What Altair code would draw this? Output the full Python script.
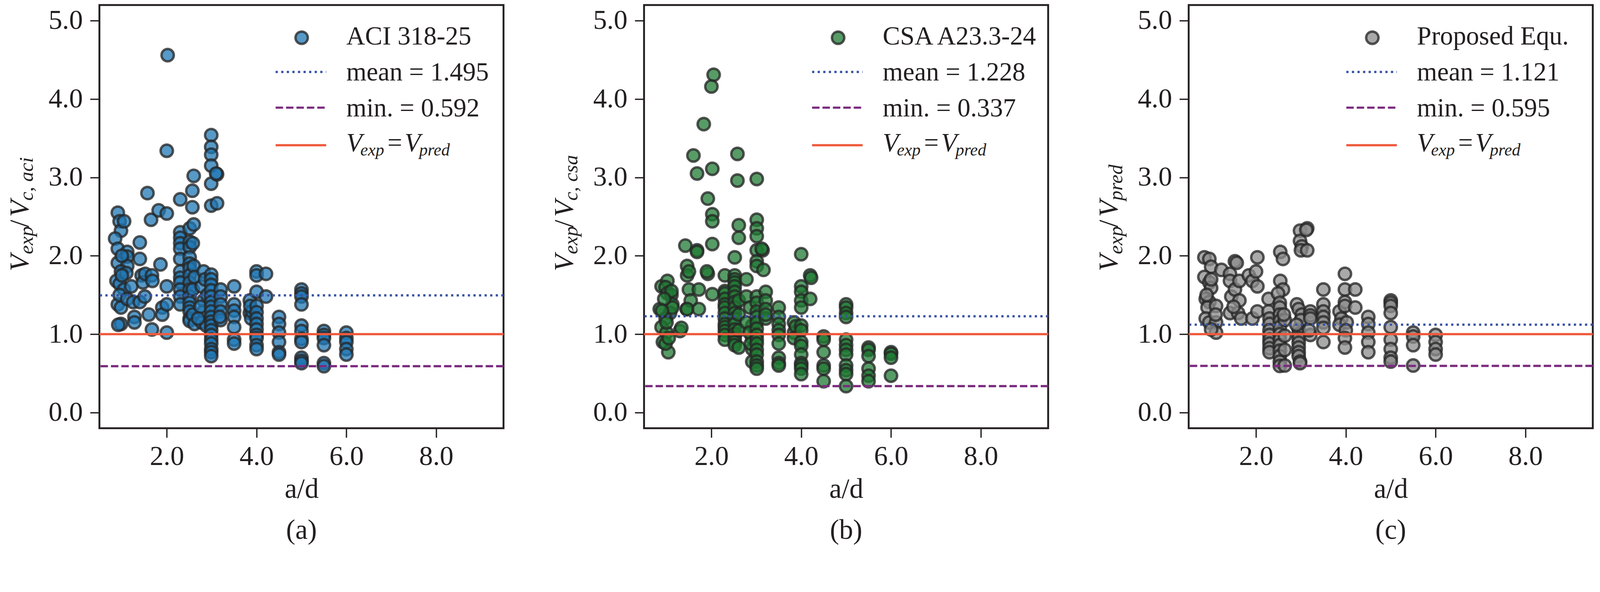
import altair as alt
import pandas as pd

# a/d and V_exp / V_model
ad_aci = [
    0.91, 0.95, 0.98, 0.85, 0.91, 1.12, 1.12, 0.91, 1.12, 0.98, 0.88, 0.95, 1.05, 0.91, 0.98, 0.98, 1.05, 1.10, 0.95, 1.12, 0.92, 1.00, 1.00,
    1.21, 1.25, 1.28, 1.28,
    1.40, 1.40, 1.44, 1.47, 1.40, 1.51,
    1.57, 1.52, 1.60, 1.65, 1.67, 1.68, 1.67,
    1.82, 1.86, 1.90, 1.90,
    2.02, 2.00, 2.00, 2.00, 2.00, 2.00,
    2.30, 2.30, 2.30, 2.30, 2.30, 2.30, 2.30, 2.30, 2.30, 2.30, 2.30, 2.30,
    2.51, 2.51, 2.51, 2.51, 2.51, 2.51, 2.51, 2.51, 2.51, 2.51, 2.51, 2.51, 2.51, 2.51, 2.51,
    2.60, 2.57, 2.57, 2.60, 2.58, 2.60, 2.62, 2.58, 2.58, 2.62,
    2.82, 2.78, 2.82, 2.82, 2.78, 2.88, 2.75, 2.70, 2.85, 2.90,
    2.99, 2.99, 2.99, 2.99, 2.99, 2.99, 2.99, 2.99, 2.99, 2.99, 2.99, 2.99,
    2.99, 2.99, 2.99, 2.99, 2.99, 2.99, 2.99, 2.99, 2.99, 2.99, 2.99, 2.99,
    3.12, 3.10, 3.12,
    3.20, 3.20, 3.20, 3.20, 3.20, 3.18,
    3.50, 3.50, 3.50, 3.50, 3.50, 3.50, 3.50,
    3.85, 3.85, 3.88, 3.90, 3.86,
    4.00, 4.00, 4.00, 4.00, 4.00, 4.00, 4.00, 4.00, 4.00, 4.00, 4.00, 4.00,
    4.21, 4.21,
    4.50, 4.50, 4.50, 4.50, 4.50, 4.50,
    5.00, 5.00, 5.00, 5.00, 5.00, 5.00, 5.00, 5.00, 5.00, 5.00, 5.00,
    5.50, 5.50, 5.50, 5.50, 5.50, 5.50,
    6.00, 6.00, 6.00, 6.00, 6.00,
]
ratio_aci = [
    2.55, 2.44, 2.32, 2.22, 2.09, 2.05, 1.99, 1.91, 1.87, 1.80, 1.68, 1.64, 1.57, 1.38, 1.34, 1.13, 2.44, 1.78, 1.50, 1.45, 1.12, 2.00, 1.75,
    1.61, 1.41, 1.22, 1.15,
    2.17, 1.96, 1.75, 1.66, 1.41, 1.48,
    2.80, 1.77, 1.25, 2.46, 1.75, 1.68, 1.06,
    2.58, 1.89, 1.34, 1.25,
    4.56, 3.34, 2.54, 1.61, 1.38, 1.02,
    2.72, 2.30, 2.23, 2.16, 2.09, 1.96, 1.80, 1.72, 1.66, 1.57, 1.48, 1.38,
    2.35, 2.18, 2.11, 1.98, 1.90, 1.84, 1.75, 1.66, 1.57, 1.48, 1.40, 1.34, 1.29, 1.20, 1.17,
    3.02, 2.83, 2.62, 2.40, 2.16, 1.87, 1.73, 1.57, 1.25, 1.13,
    1.80, 1.61, 1.43, 1.29, 1.15, 1.11, 1.35, 1.20, 1.70, 1.50,
    3.54, 3.39, 3.29, 3.15, 2.92, 2.64, 1.76, 1.70, 1.63, 1.56, 1.48, 1.41,
    1.35, 1.29, 1.22, 1.16, 1.11, 1.05, 0.99, 0.93, 0.88, 0.81, 0.77, 0.72,
    3.04, 3.05, 2.67,
    1.57, 1.48, 1.38, 1.29, 1.18, 1.22,
    1.61, 1.38, 1.30, 1.22, 1.09, 0.93, 0.88,
    1.43, 1.27, 1.20, 1.29, 1.36,
    1.80, 1.75, 1.54, 1.36, 1.28, 1.20, 1.13, 1.06, 0.99, 0.95, 0.86, 0.81,
    1.77, 1.48,
    1.22, 1.13, 1.02, 0.90, 0.77, 0.74,
    1.57, 1.52, 1.48, 1.38, 1.11, 1.04, 0.94, 0.90, 0.70, 0.66, 0.63,
    1.04, 0.99, 0.95, 0.86, 0.63, 0.592,
    1.02, 0.95, 0.90, 0.81, 0.74,
]

ad_csa = [
    0.89, 1.02, 0.98, 1.02, 0.85, 1.11, 1.13, 1.08, 0.98, 0.89, 1.00, 0.92, 1.04, 0.98, 1.13, 1.11, 0.95, 1.00, 1.05, 0.90,
    1.30, 1.33, 1.45,
    1.42, 1.46, 1.46, 1.50, 1.50, 1.54, 1.46,
    1.60, 1.68, 1.68, 1.68, 1.72, 1.72,
    1.83, 1.92, 1.92, 1.90,
    2.05, 2.00, 2.02, 2.02, 2.02, 2.02, 2.02,
    2.30, 2.30, 2.30, 2.30, 2.30, 2.30, 2.30, 2.30, 2.30, 2.30, 2.30, 2.30, 2.30,
    2.52, 2.52, 2.52, 2.52, 2.52, 2.52, 2.52, 2.52, 2.52, 2.52, 2.52, 2.52, 2.52, 2.52, 2.52, 2.52, 2.52,
    2.58, 2.58, 2.61, 2.61, 2.61, 2.61, 2.61, 2.61,
    2.78, 2.78, 2.86, 2.91, 2.91, 2.91, 2.91, 2.78, 2.85, 2.88,
    3.01, 3.01, 3.01, 3.01, 3.01, 3.01, 3.01, 3.01, 3.01, 3.01, 3.01,
    3.01, 3.01, 3.01, 3.01, 3.01, 3.01, 3.01, 3.01, 3.01, 3.01,
    3.14, 3.16, 3.12,
    3.21, 3.21, 3.21, 3.21, 3.21,
    3.50, 3.50, 3.50, 3.50, 3.50, 3.50, 3.50, 3.50, 3.50,
    3.84, 3.84, 3.84, 3.88,
    4.00, 4.00, 4.00, 4.00, 4.00, 4.00, 4.00, 4.00, 4.00, 4.00, 4.00, 4.00, 4.00, 4.00,
    4.20, 4.22, 4.20,
    4.50, 4.50, 4.50, 4.50, 4.50, 4.50,
    5.00, 5.00, 5.00, 5.00, 5.00, 5.00, 5.00, 5.00, 5.00, 5.00, 5.00, 5.00,
    5.50, 5.50, 5.50, 5.50, 5.50, 5.50,
    6.00, 6.00, 6.00, 6.00,
]
ratio_csa = [
    1.61, 1.68, 1.60, 1.52, 1.32, 1.50, 1.38, 1.27, 1.20, 1.09, 1.02, 0.90, 0.77, 0.88, 1.34, 1.55, 1.45, 1.15, 0.95, 1.30,
    1.04, 1.08, 1.32,
    2.13, 1.87, 1.75, 1.80, 1.57, 1.43, 1.32,
    3.28, 3.05, 2.07, 2.05, 1.57, 1.32,
    3.68, 2.73, 1.77, 1.80,
    4.31, 4.16, 3.11, 2.53, 2.44, 2.15, 1.51,
    1.75, 1.55, 1.52, 1.45, 1.38, 1.34, 1.27, 1.20, 1.13, 1.09, 1.04, 0.99, 0.93,
    1.98, 1.75, 1.70, 1.66, 1.61, 1.54, 1.48, 1.41, 1.34, 1.27, 1.20, 1.13, 1.06, 1.00, 0.95, 0.90, 0.86,
    3.30, 2.96, 2.39, 2.23, 1.43, 1.25, 0.83, 1.05,
    1.70, 1.48, 1.34, 1.11, 0.95, 0.81, 0.65, 1.15, 1.02, 0.88,
    2.98, 2.46, 2.35, 2.25, 2.07, 1.93, 1.87, 1.48, 1.40, 1.29, 1.22,
    1.15, 1.07, 0.99, 0.93, 0.88, 0.80, 0.74, 0.65, 0.60, 0.56,
    2.07, 1.82, 2.09,
    1.54, 1.43, 1.32, 1.20, 1.25,
    1.34, 1.22, 1.13, 1.05, 0.99, 0.88, 0.70, 0.63, 0.60,
    1.15, 1.02, 0.95, 1.10,
    2.02, 1.61, 1.54, 1.43, 1.34, 1.11, 1.05, 0.90, 0.85, 0.74, 0.63, 0.60, 0.56, 0.49,
    1.75, 1.72, 1.45,
    0.97, 0.93, 0.77, 0.60, 0.56, 0.40,
    1.38, 1.34, 1.27, 1.22, 0.93, 0.86, 0.80, 0.74, 0.60, 0.54, 0.49, 0.337,
    0.83, 0.80, 0.72, 0.56, 0.47, 0.40,
    0.77, 0.75, 0.70, 0.47,
]

ad_prop = [
    0.85, 0.96, 1.00, 0.85, 0.96, 1.00, 0.88, 0.96, 0.92, 0.88, 0.96, 1.11, 1.11, 1.11, 1.00, 1.23, 0.90, 1.00, 1.10,
    1.42, 1.53, 1.57, 1.42, 1.45, 1.53, 1.42, 1.60, 1.63, 1.63, 1.67, 1.50,
    1.84, 1.92, 2.03, 2.00, 2.03, 1.92, 2.03,
    2.28, 2.28, 2.30, 2.30, 2.30, 2.30, 2.30, 2.30, 2.30, 2.30,
    2.54, 2.60, 2.54, 2.60, 2.49, 2.53, 2.53, 2.53, 2.53, 2.53, 2.53, 2.53, 2.53, 2.53, 2.53, 2.53, 2.53,
    2.64, 2.64, 2.64, 2.64, 2.62,
    2.91, 2.95, 2.98, 2.98, 3.02, 3.00, 2.95, 2.95, 2.95, 2.95, 2.95, 2.95, 2.95, 2.98, 2.98, 3.02, 3.00, 2.90,
    3.14, 3.12, 3.14,
    3.21, 3.21, 3.21, 3.21, 3.18,
    3.50, 3.50, 3.50, 3.50, 3.50, 3.50, 3.50,
    3.86, 3.90, 3.86, 3.98, 3.98, 3.98, 3.98, 4.02, 4.00, 3.98, 3.98,
    4.21, 4.21,
    4.50, 4.50, 4.50, 4.50, 4.50,
    5.00, 5.00, 5.00, 5.00, 5.00, 5.00, 5.00, 5.00, 5.00,
    5.50, 5.50, 5.50, 5.50,
    6.00, 6.00, 6.00, 6.00,
]
ratio_prop = [
    1.98, 1.96, 1.86, 1.73, 1.66, 1.59, 1.45, 1.41, 1.34, 1.20, 1.15, 1.36, 1.15, 1.02, 1.06, 1.82, 1.50, 1.70, 1.25,
    1.77, 1.93, 1.91, 1.68, 1.48, 1.57, 1.27, 1.27, 1.43, 1.68, 1.20, 1.35,
    1.75, 1.68, 1.98, 1.80, 1.61, 1.20, 1.29,
    1.45, 1.29, 1.20, 1.13, 1.05, 0.99, 0.93, 0.88, 0.82, 0.77,
    2.05, 1.96, 1.68, 1.57, 1.52, 1.40, 1.34, 1.25, 1.17, 1.09, 1.00, 0.93, 0.86, 0.79, 0.72, 0.65, 0.595,
    1.18, 0.98, 0.80, 0.60, 1.25,
    1.38, 1.32, 2.32, 2.19, 2.12, 2.07, 1.06, 1.00, 0.95, 0.89, 0.83, 0.77, 0.72, 0.65, 0.63, 1.25, 1.18, 1.12,
    2.35, 2.33, 2.07,
    1.29, 1.24, 1.20, 0.99, 1.05,
    1.57, 1.38, 1.29, 1.22, 1.15, 1.08, 0.90,
    1.29, 1.20, 1.12, 1.77, 1.57, 1.41, 1.36, 1.15, 1.05, 0.95, 0.83,
    1.57, 1.34,
    1.22, 1.13, 1.02, 0.90, 0.77,
    1.43, 1.40, 1.36, 1.27, 1.09, 0.93, 0.81, 0.70, 0.65,
    1.02, 0.97, 0.86, 0.60,
    0.99, 0.90, 0.81, 0.74,
]

methods = ["ACI 318-25", "CSA A23.3-24", "Proposed Equ."]
mean_ratio = [1.495, 1.228, 1.121]
min_ratio = [0.592, 0.337, 0.595]
y_subscripts = ["c, aci", "c, csa", "pred"]
panel_tags = ["(a)", "(b)", "(c)"]

FONT = "Liberation Serif"
INK = "#231f20"
FILLS = ["#1f77b4", "#1f7a33", "#8c8c8c"]
MEAN_C = "#3953a4"
MIN_C = "#7b2b7f"
ONE_C = "#ef5a3c"
W, H = 1087, 1138


def word(text, x, y, size=70, italic=False, angle=0):
    # one piece of text placed in pixels inside a panel
    return alt.Chart(pd.DataFrame({"t": [text]})).mark_text(
        font=FONT, fontSize=size, fontStyle="italic" if italic else "normal",
        align="left", baseline="alphabetic", angle=angle, color=INK
    ).encode(x=alt.value(x), y=alt.value(y), text="t:N")


def panel(ad, ratio, i, legend_x):
    df = pd.DataFrame({"ad": ad, "ratio": ratio})
    fill = FILLS[i]
    dot_style = dict(size=1100, fill=fill, fillOpacity=0.75,
                     stroke="#262626", strokeOpacity=0.78, strokeWidth=6.5)

    points = alt.Chart(df).mark_circle(**dot_style).encode(
        x=alt.X("ad:Q", scale=alt.Scale(domain=[0.5, 9.5], nice=False, zero=False),
                axis=alt.Axis(values=[2, 4, 6, 8], format=".1f", title="a/d")),
        y=alt.Y("ratio:Q", scale=alt.Scale(domain=[-0.2, 5.2], nice=False, zero=False),
                axis=alt.Axis(values=[0, 1, 2, 3, 4, 5], format=".1f", title=None)),
    )

    mean_rule = alt.Chart().mark_rule(color=MEAN_C, strokeWidth=6, strokeDash=[6, 9]).encode(
        y=alt.datum(mean_ratio[i]))
    min_rule = alt.Chart().mark_rule(color=MIN_C, strokeWidth=6, strokeDash=[20, 8]).encode(
        y=alt.datum(min_ratio[i]))
    one_rule = alt.Chart().mark_rule(color=ONE_C, strokeWidth=6).encode(y=alt.datum(1.0))

    # legend, drawn by hand (upper right, no frame)
    tx = legend_x
    lx1, lx2 = tx - 190, tx - 54
    leg = [
        alt.Chart(pd.DataFrame({"t": [0]})).mark_circle(**dot_style).encode(
            x=alt.value(tx - 120), y=alt.value(88)),
        word(methods[i], tx, 106),
        alt.Chart(pd.DataFrame({"t": [0]})).mark_rule(color=MEAN_C, strokeWidth=6, strokeDash=[6, 9]).encode(
            x=alt.value(lx1), x2=alt.value(lx2), y=alt.value(180)),
        word(f"mean = {mean_ratio[i]:.3f}", tx, 203),
        alt.Chart(pd.DataFrame({"t": [0]})).mark_rule(color=MIN_C, strokeWidth=6, strokeDash=[20, 8]).encode(
            x=alt.value(lx1), x2=alt.value(lx2), y=alt.value(276)),
        word(f"min. = {min_ratio[i]:.3f}", tx, 300),
        alt.Chart(pd.DataFrame({"t": [0]})).mark_rule(color=ONE_C, strokeWidth=6).encode(
            x=alt.value(lx1), x2=alt.value(lx2), y=alt.value(377)),
        word("V", tx, 393, italic=True),
        word("exp", tx + 38, 405, size=46, italic=True),
        word("=", tx + 111, 393),
        word("V", tx + 157, 393, italic=True),
        word("pred", tx + 196, 405, size=46, italic=True),
    ]

    # y title V_exp / V_sub, rotated
    ytitle = [
        word("V", -191, 716, size=74, italic=True, angle=270),
        word("exp", -179, 670, size=54, italic=True, angle=270),
        word("/", -191, 598, size=74, angle=270),
        word("V", -191, 570, size=74, italic=True, angle=270),
        word(y_subscripts[i], -179, 526, size=54, italic=True, angle=270),
    ]

    return alt.layer(points, mean_rule, min_rule, one_rule, *leg, *ytitle).properties(
        width=W, height=H,
        title=alt.TitleParams(panel_tags[i], orient="bottom", font=FONT, fontSize=75,
                              fontWeight="normal", color=INK, offset=36),
    )


panels = [
    panel(ad_aci, ratio_aci, 0, 664),
    panel(ad_csa, ratio_csa, 1, 642),
    panel(ad_prop, ratio_prop, 2, 614),
]

chart = alt.hconcat(*panels, spacing=378, bounds="flush").properties(
    padding={"left": 6, "top": -34, "right": 5, "bottom": 0}
).configure_view(
    stroke=INK, strokeWidth=5
).configure_axis(
    grid=False, domain=False,
    labelFont=FONT, labelFontSize=74, labelColor=INK,
    tickColor=INK, tickWidth=3.5, tickSize=25,
    titleFont=FONT, titleFontSize=75, titleFontWeight="normal", titleColor=INK, titlePadding=15,
).configure_axisX(
    labelPadding=15
).configure_axisY(
    labelPadding=20
)

chart.save("out.html", embed_options={"renderer": "svg", "actions": False})
